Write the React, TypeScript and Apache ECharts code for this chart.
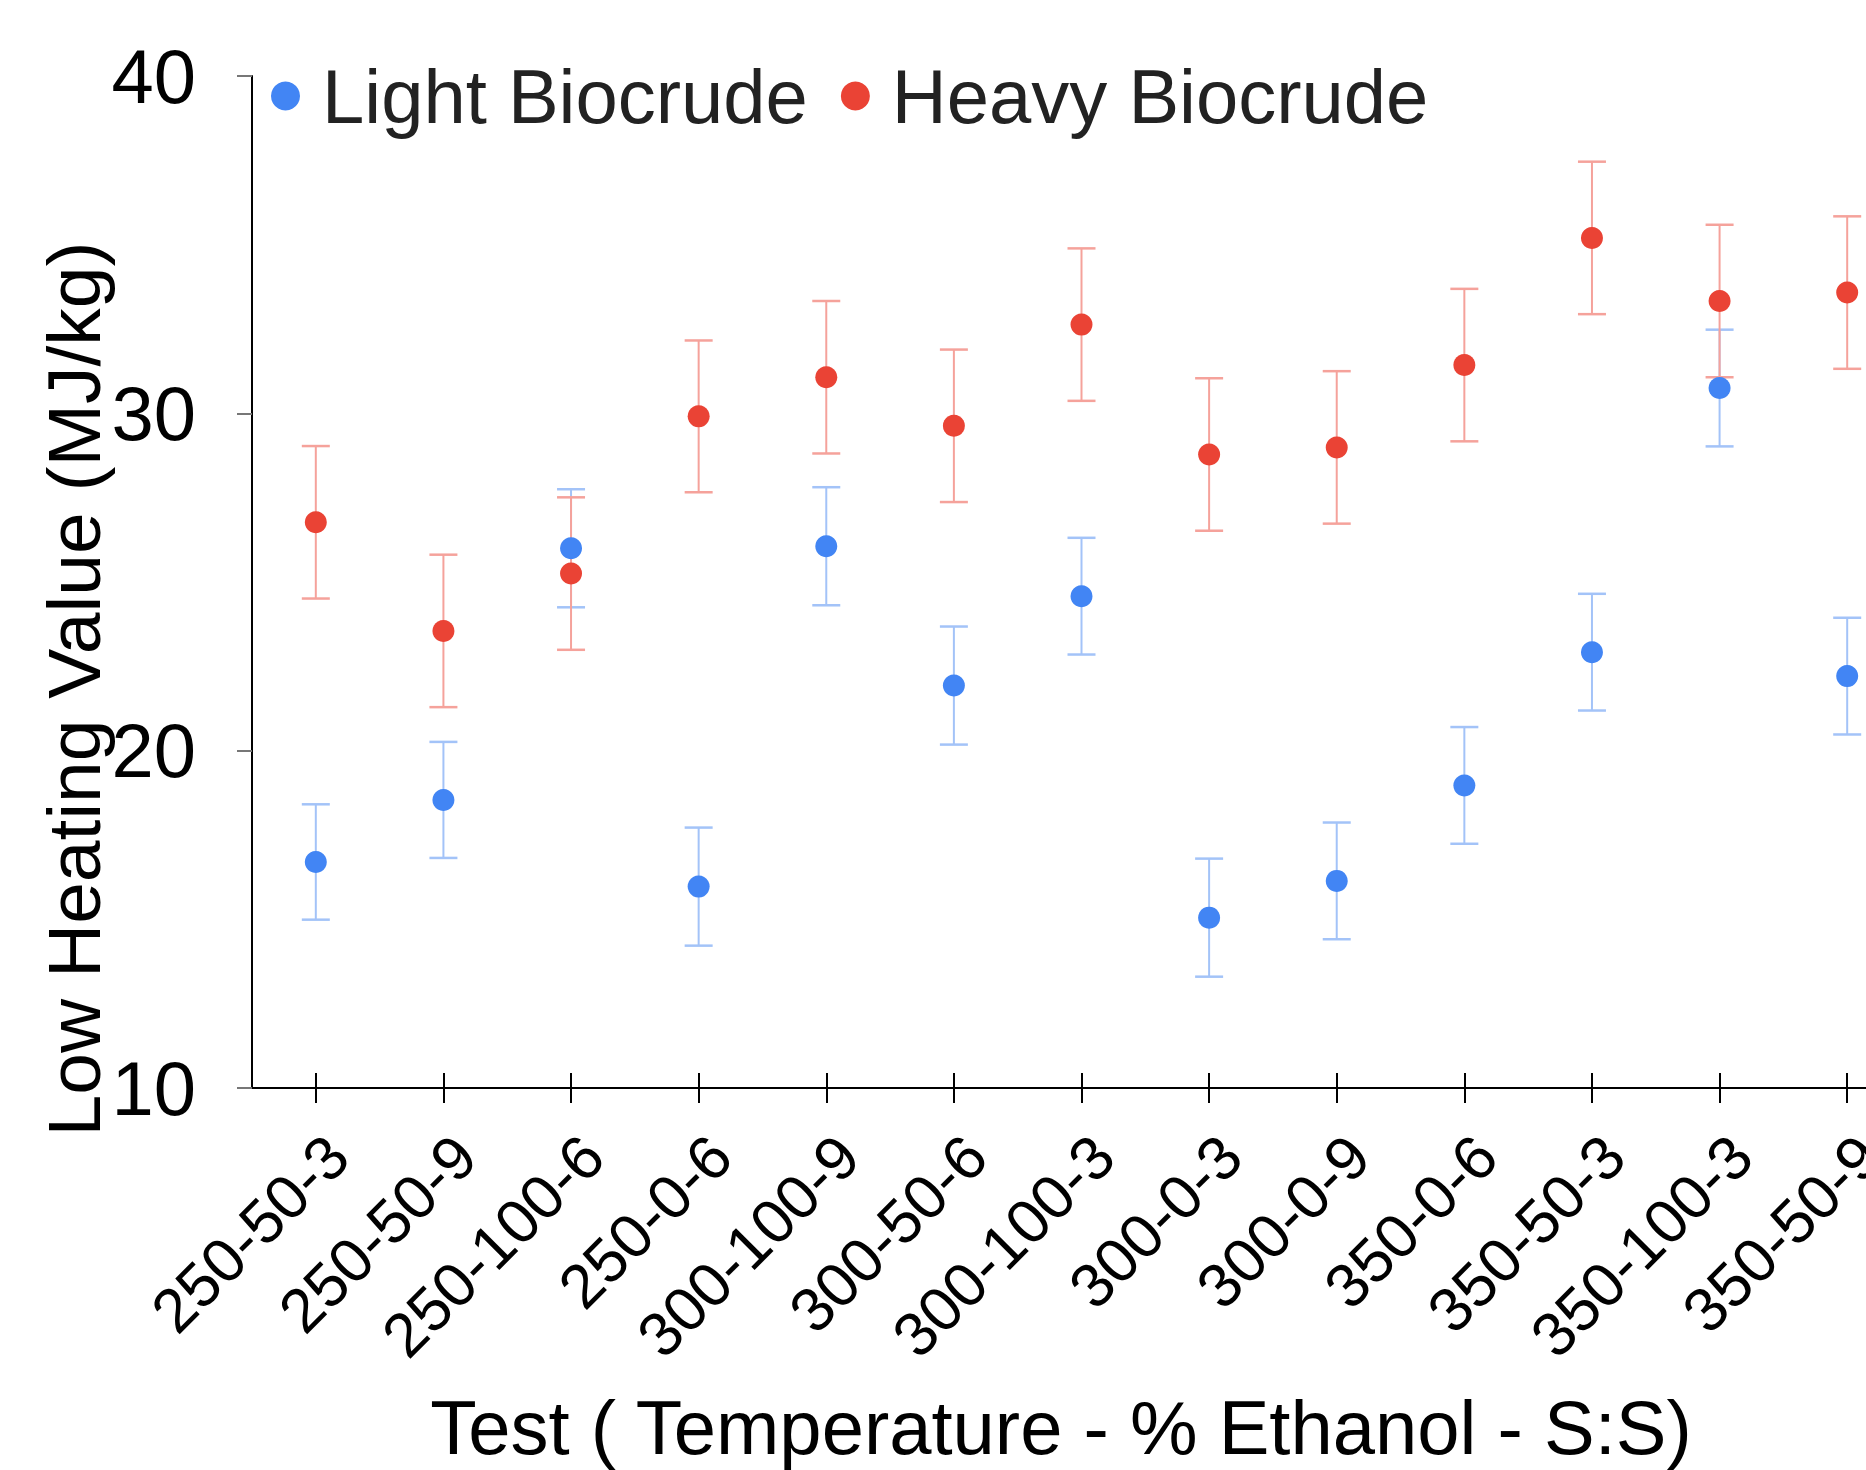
import React, { useEffect, useRef } from "react";
import * as echarts from "echarts";

const categories = [
  "250-50-3", "250-50-9", "250-100-6", "250-0-6", "300-100-9", "300-50-6",
  "300-100-3", "300-0-3", "300-0-9", "350-0-6", "350-50-3", "350-100-3", "350-50-9",
];
const lightValues = [16.7, 18.54, 26.0, 15.97, 26.06, 21.93, 24.58, 15.05, 16.14, 18.97, 22.92, 30.75, 22.21];
const lightErrors = [1.71, 1.72, 1.75, 1.75, 1.75, 1.75, 1.73, 1.75, 1.73, 1.73, 1.73, 1.73, 1.73];
const heavyValues = [26.77, 23.55, 25.25, 29.91, 31.07, 29.63, 32.63, 28.78, 28.99, 31.43, 35.2, 33.33, 33.58];
const heavyErrors = [2.26, 2.26, 2.26, 2.25, 2.26, 2.26, 2.26, 2.26, 2.26, 2.26, 2.26, 2.26, 2.26];
const yTicks = { min: 10, max: 40, interval: 10 };
const seriesNames = ["Light Biocrude", "Heavy Biocrude"];
const yTitle = "Low Heating Value (MJ/kg)";
const xTitle = "Test ( Temperature - % Ethanol - S:S)";

const FONT = "'Liberation Sans', Arial, Helvetica, sans-serif";
const BLUE = "#4285F4";
const RED = "#EA4335";
const BLUE_ERR = "#A3C3F8";
const RED_ERR = "#F5A29B";

function errorData(values: number[], errs: number[]) {
  return values.map((v, i) => [i, v - errs[i], v + errs[i]]);
}

function errorSeries(values: number[], errs: number[], color: string) {
  return {
    type: "custom",
    xAxisIndex: 0,
    yAxisIndex: 0,
    z: 1,
    silent: true,
    data: errorData(values, errs),
    encode: { x: 0, y: [1, 2] },
    renderItem: (params: any, api: any) => {
      const x = api.value(0);
      const lo = api.value(1);
      const hi = api.value(2);
      const pHi = api.coord([x, hi]);
      const pLo = api.coord([x, lo]);
      const hw = 14;
      return {
        type: "group",
        children: [
          {
            type: "line",
            shape: { x1: pHi[0], y1: pHi[1], x2: pLo[0], y2: pLo[1] },
            style: { stroke: color, lineWidth: 2 },
          },
          {
            type: "line",
            shape: { x1: pHi[0] - hw, y1: pHi[1], x2: pHi[0] + hw, y2: pHi[1] },
            style: { stroke: color, lineWidth: 2.5 },
          },
          {
            type: "line",
            shape: { x1: pLo[0] - hw, y1: pLo[1], x2: pLo[0] + hw, y2: pLo[1] },
            style: { stroke: color, lineWidth: 2.5 },
          },
        ],
      };
    },
  };
}

export default function App() {
  const ref = useRef<HTMLDivElement>(null);

  useEffect(() => {
    document.body.style.margin = "0";
    if (!ref.current) return;
    const chart = echarts.init(ref.current, undefined, { renderer: "svg" });
    chart.setOption({
      animation: false,
      backgroundColor: "#ffffff",
      textStyle: { fontFamily: FONT },
      grid: { left: 252, top: 76, width: 1659, bottom: 382, containLabel: false, outerBoundsMode: "none" },
      legend: {
        data: seriesNames,
        left: 266,
        top: 53,
        itemWidth: 29,
        itemHeight: 29,
        itemGap: 33,
        itemStyle: { borderWidth: 0, opacity: 1 },
        icon: "circle",
        textStyle: { fontSize: 76, color: "#222222", fontFamily: FONT, padding: [0, 0, 0, 17] },
      },
      xAxis: [
        {
          type: "category",
          data: categories,
          position: "bottom",
          axisLine: { show: true, lineStyle: { color: "#000", width: 2 } },
          axisTick: { show: true, alignWithLabel: true, interval: 0, length: 15, lineStyle: { color: "#000", width: 2 } },
          axisLabel: {
            interval: 0,
            rotate: 45,
            align: "right",
            verticalAlign: "top",
            margin: 36,
            fontSize: 62,
            color: "#000",
            fontFamily: FONT,
            padding: [0, 0, 0, 0],
          },
          splitLine: { show: false },
        },
        {
          type: "category",
          data: categories,
          position: "bottom",
          axisLine: { show: false },
          axisTick: { show: true, inside: true, alignWithLabel: true, interval: 0, length: 15, lineStyle: { color: "#000", width: 2 } },
          axisLabel: { show: false },
          splitLine: { show: false },
        },
      ],
      yAxis: {
        type: "value",
        min: yTicks.min,
        max: yTicks.max,
        interval: yTicks.interval,
        axisLine: { show: true, lineStyle: { color: "#000", width: 2 } },
        axisTick: { show: true, length: 15, lineStyle: { color: "#777", width: 2 } },
        axisLabel: { margin: 56, fontSize: 76, color: "#000", fontFamily: FONT },
        splitLine: { show: false },
      },
      graphic: [
        {
          type: "text",
          x: 74,
          y: 689,
          rotation: Math.PI / 2,
          style: {
            text: yTitle,
            fontSize: 75,
            fontFamily: FONT,
            fill: "#000",
            align: "center",
            verticalAlign: "middle",
          },
        },
        {
          type: "text",
          x: 1061,
          y: 1427,
          style: {
            text: xTitle,
            fontSize: 76,
            fontFamily: FONT,
            fill: "#000",
            align: "center",
            verticalAlign: "middle",
          },
        },
      ],
      series: [
        errorSeries(lightValues, lightErrors, BLUE_ERR),
        errorSeries(heavyValues, heavyErrors, RED_ERR),
        {
          name: seriesNames[0],
          type: "scatter",
          z: 3,
          symbol: "circle",
          symbolSize: 22,
          itemStyle: { color: BLUE, opacity: 1 },
          data: lightValues,
        },
        {
          name: seriesNames[1],
          type: "scatter",
          z: 4,
          symbol: "circle",
          symbolSize: 22,
          itemStyle: { color: RED, opacity: 1 },
          data: heavyValues,
        },
      ],
    });
    return () => chart.dispose();
  }, []);

  return (
    <div style={{ width: 1866, height: 1470, overflow: "hidden", position: "relative" }}>
      <div ref={ref} style={{ width: 1960, height: 1470 }} />
    </div>
  );
}
